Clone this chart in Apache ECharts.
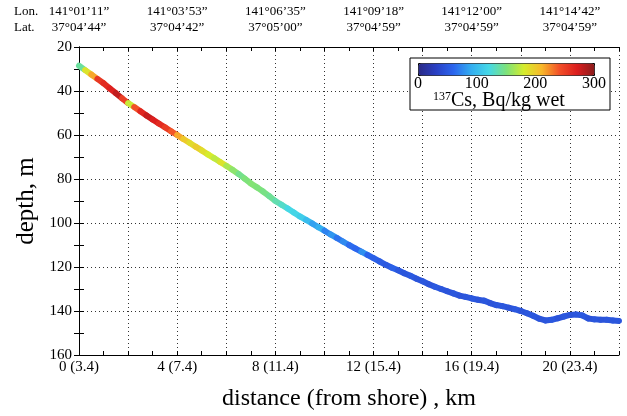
<!DOCTYPE html>
<html>
<head>
<meta charset="utf-8">
<script src="https://cdn.jsdelivr.net/npm/echarts@6/dist/echarts.min.js"></script>
<style>html,body{margin:0;padding:0;background:#fff}#c{width:627px;height:416px}</style>
</head>
<body>
<div id="c"></div>
<script>
// distance from shore start (km), step 0.25 km
const distance = [0,0.25,0.5,0.75,1,1.25,1.5,1.75,2,2.25,2.5,2.75,3,3.25,3.5,3.75,4,4.25,4.5,4.75,5,5.25,5.5,5.75,6,6.25,6.5,6.75,7,7.25,7.5,7.75,8,8.25,8.5,8.75,9,9.25,9.5,9.75,10,10.25,10.5,10.75,11,11.25,11.5,11.75,12,12.25,12.5,12.75,13,13.25,13.5,13.75,14,14.25,14.5,14.75,15,15.25,15.5,15.75,16,16.25,16.5,16.75,17,17.25,17.5,17.75,18,18.25,18.5,18.75,19,19.25,19.5,19.75,20,20.25,20.5,20.75,21,21.25,21.5,21.75,22];
const depth = [28.5,30.5,32.5,34.5,36.5,38.8,41,43.3,45.5,47.3,49.2,51.1,53,54.8,56.5,58.3,60,61.8,63.5,65.3,67,68.8,70.5,72.3,74,75.8,77.7,79.8,82,83.8,85.7,87.8,90,91.7,93.4,95.2,97,98.6,100.2,101.9,103.5,105.2,106.8,108.4,110,111.5,113,114.5,116,117.5,119,120.3,121.5,122.8,124,125.3,126.5,127.8,129,130,131,132,133,133.6,134.3,134.9,135.3,136.4,137.3,137.8,138.5,139.2,140,141,142.2,143.5,144.3,144,143.3,142.5,141.8,141.6,142,143.4,143.8,144,144,144.3,144.5];
const cs137 = [140,185,215,255,262,268,280,250,175,240,265,278,270,262,252,238,215,200,190,198,188,180,172,185,165,155,145,150,152,150,147,142,135,128,120,118,112,100,85,92,72,80,66,75,62,60,78,58,55,52,50,56,48,47,50,46,48,45,50,47,46,48,45,47,49,46,48,45,47,48,46,49,45,47,48,46,47,49,45,48,46,47,49,45,48,46,47,48,46];
const xTickLabels = ['0 (3.4)','4 (7.4)','8 (11.4)','12 (15.4)','16 (19.4)','20 (23.4)'];
const lonLabels = ['141°01’11”','141°03’53”','141°06’35”','141°09’18”','141°12’00”','141°14’42”'];
const latLabels = ['37°04’44”','37°04’42”','37°05’00”','37°04’59”','37°04’59”','37°04’59”'];
const legendTicks = [0,100,200,300];

const FONT = '"Liberation Serif", "Times New Roman", serif';
// each segment: start point, its Cs value, end point
const data = distance.map((d,i)=>{
  const j = Math.min(i+1, distance.length-1);
  return [d, depth[i], cs137[i], distance[j], depth[j]];
});
const dotted = {show:true, lineStyle:{color:'#333', type:[1,3], width:1}};

const chart = echarts.init(document.getElementById('c'), null, {renderer:'canvas'});
chart.setOption({
  animation:false,
  backgroundColor:'#fff',
  grid:[
    {left:79, right:8, top:47, bottom:57},
    {left:418, width:176, top:75, height:1}
  ],
  xAxis:[
    {gridIndex:0, type:'value', position:'bottom', min:0, max:22, interval:2,
     axisLine:{lineStyle:{color:'#000', width:1}},
     axisTick:{inside:true, length:4, lineStyle:{color:'#000'}},
     minorTick:{show:true, splitNumber:2, length:4, lineStyle:{color:'#000'}},
     axisLabel:{color:'#000', fontFamily:FONT, fontSize:15, margin:5,
       formatter:v=> (v%4===0 && v/4 < xTickLabels.length) ? xTickLabels[v/4] : ''},
     splitLine:dotted,
     name:'distance (from shore) , km', nameLocation:'middle', nameGap:32,
     nameTextStyle:{color:'#000', fontFamily:FONT, fontSize:24}},
    {gridIndex:0, type:'value', position:'top', min:0, max:22, interval:2,
     axisLine:{lineStyle:{color:'#000', width:1}},
     axisTick:{inside:true, length:4, lineStyle:{color:'#000'}},
     minorTick:{show:true, splitNumber:2, length:4, lineStyle:{color:'#000'}},
     axisLabel:{color:'#000', fontFamily:FONT, fontSize:13, margin:11, lineHeight:16,
       formatter:v=> (v%4===0 && v/4 < lonLabels.length) ? lonLabels[v/4]+'\n'+latLabels[v/4] : ''},
     splitLine:{show:false}},
    {gridIndex:1, type:'value', min:0, max:300, interval:100, z:10,
     axisLine:{show:false}, axisTick:{show:false}, splitLine:{show:false},
     axisLabel:{color:'#000', fontFamily:FONT, fontSize:16, margin:0,
       customValues:legendTicks}}
  ],
  yAxis:[
    {gridIndex:0, type:'value', position:'left', inverse:true, min:20, max:160, interval:20,
     axisLine:{show:true, lineStyle:{color:'#000', width:1}},
     axisTick:{show:true, inside:false, length:4, lineStyle:{color:'#000'}},
     axisLabel:{color:'#000', fontFamily:FONT, fontSize:15, margin:7},
     splitLine:dotted,
     name:'depth, m', nameLocation:'middle', nameGap:33,
     nameTextStyle:{color:'#000', fontFamily:FONT, fontSize:25}},
    {gridIndex:0, type:'value', position:'right', inverse:true, min:20, max:160, interval:10,
     axisLine:{show:true, lineStyle:{color:'#000', width:1}},
     axisTick:{show:true, inside:true, length:5, lineStyle:{color:'#000'}},
     axisLabel:{show:false}, splitLine:{show:false}},
    {gridIndex:0, type:'value', position:'left', inverse:true, min:20, max:160, interval:10,
     axisLine:{show:false},
     axisTick:{show:true, inside:true, length:5, lineStyle:{color:'#000'}},
     axisLabel:{show:false}, splitLine:{show:false}},
    {gridIndex:1, type:'value', show:false}
  ],
  visualMap:{
    type:'continuous', min:0, max:300, dimension:2, seriesIndex:0,
    orient:'horizontal', left:418, top:63, itemWidth:12, itemHeight:176,
    calculable:false, text:null, padding:0, borderColor:'#000', borderWidth:1, z:10,
    inRange:{color:['#2a2a86','#2a40c4','#2b66ee','#33aef0','#45d8e6','#7ee27a','#d6ec2c','#f8b82a','#f25028','#dc1e1e','#8a1c1c']}
  },
  graphic:[
    {type:'rect', z:3, shape:{x:410, y:58, width:200, height:52}, style:{fill:'#fff', stroke:'#000', lineWidth:1}},
    {type:'text', z:10, left:433, top:91, style:{
      text:'{sup|137}{main|Cs, Bq/kg wet}',
      rich:{sup:{fontFamily:FONT, fontSize:12, fill:'#000', verticalAlign:'top', padding:[0,0,8,0]},
            main:{fontFamily:FONT, fontSize:20, fill:'#000'}}}},
    {type:'text', left:14, top:5, style:{text:'Lon.', fontFamily:FONT, fontSize:13, fill:'#000'}},
    {type:'text', left:14, top:21, style:{text:'Lat.', fontFamily:FONT, fontSize:13, fill:'#000'}}
  ],
  series:[
    {type:'custom', xAxisIndex:0, yAxisIndex:0, data:data, z:2,
     encode:{x:[0,3], y:[1,4]},
     renderItem:function(params, api){
       const p0 = api.coord([api.value(0), api.value(1)]);
       const p1 = api.coord([api.value(3), api.value(4)]);
       return {type:'line', shape:{x1:p0[0], y1:p0[1], x2:p1[0], y2:p1[1]},
               style:{stroke:api.visual('color'), lineWidth:6, lineCap:'round'}};
     }}
  ]
});
</script>
</body>
</html>
